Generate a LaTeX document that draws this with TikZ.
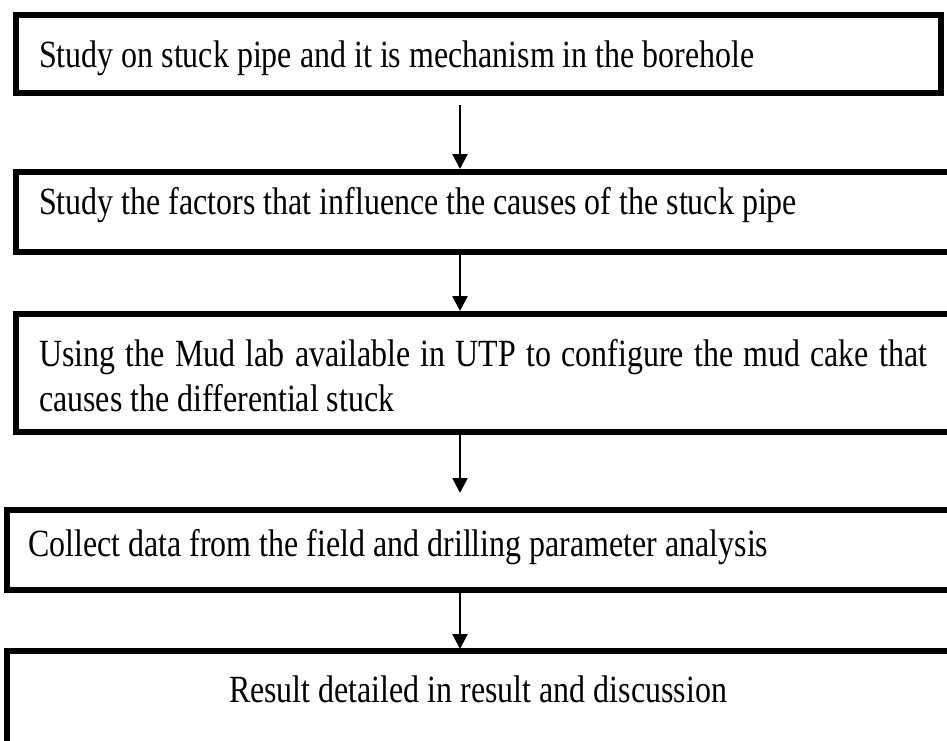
\documentclass[tikz,border=0pt]{standalone}
\usepackage{fontspec}
\setmainfont[FakeStretch=0.83]{Liberation Serif}
\usetikzlibrary{arrows.meta,positioning}

\tikzset{
  stage/.style={draw, line width=6pt, outer sep=0pt, inner sep=0pt, anchor=north west},
  caption/.style={inner sep=0pt, anchor=base west, font=\fontsize{38.5}{45}\selectfont},
  flow/.style={-{Triangle[width=15pt,length=15pt]}, line width=2.5pt}
}

\begin{document}
\begin{tikzpicture}[x=1pt,y=-1pt]
  \useasboundingbox (0,0) rectangle (947,740);
  \clip (0,0) rectangle (947,740);

  \node[stage, minimum width=925pt, minimum height=78pt]  (s1) at (16,15)  {};
  \node[stage, minimum width=960pt, minimum height=80pt]  (s2) at (16,172) {};
  \node[stage, minimum width=960pt, minimum height=118pt] (s3) at (16,314) {};
  \node[stage, minimum width=960pt, minimum height=80pt]  (s4) at (7,510)  {};
  \node[stage, minimum width=960pt, minimum height=130pt] (s5) at (7,651)  {};

  \node[caption] (c1) at (39,67)  {Study on stuck pipe and it is mechanism in the borehole};
  \node[caption] (c2) at (39,214) {Study the factors that influence the causes of the stuck pipe};
  \node[caption, text width=888pt, align=justify] (c3) at (39,366)
       {Using the Mud lab available in UTP to configure the mud cake that causes the differential stuck};
  \node[caption] (c4) at (28,556) {Collect data from the field and drilling parameter analysis};
  \node[caption, anchor=base] (c5) at (478,702) {Result detailed in result and discussion};

  \coordinate (axis) at (460,0);
  \draw[flow, shorten <=12pt, shorten >=3pt] (s1.south -| axis) -- (s2.north -| axis);
  \draw[flow, shorten >=3pt]  (s2.south -| axis) -- (s3.north -| axis);
  \draw[flow, shorten >=17pt] (s3.south -| axis) -- (s4.north -| axis);
  \draw[flow, shorten >=2pt]  (s4.south -| axis) -- (s5.north -| axis);
\end{tikzpicture}
\end{document}
